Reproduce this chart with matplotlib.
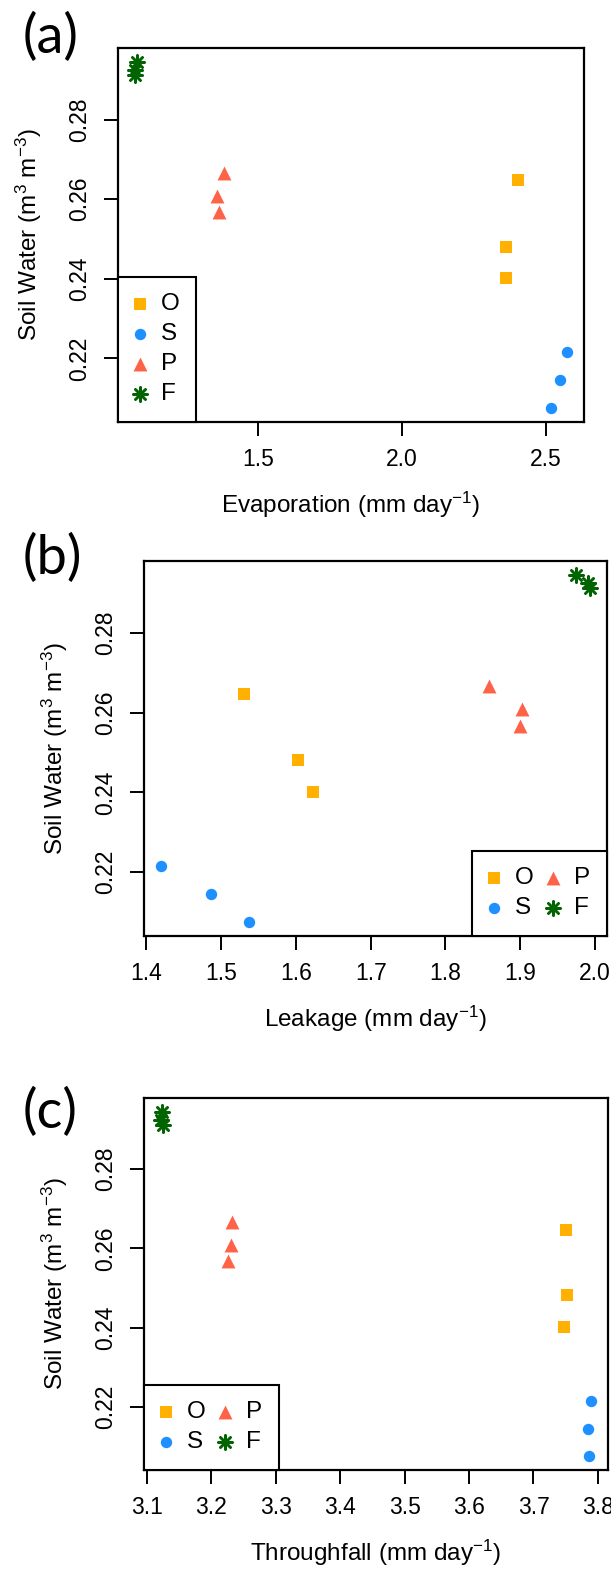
import matplotlib
matplotlib.use("Agg")
import matplotlib.pyplot as plt

plt.rcParams['font.family'] = ['Liberation Sans', 'DejaVu Sans']
plt.rcParams['mathtext.fontset'] = 'custom'
plt.rcParams['mathtext.rm'] = 'Liberation Sans'
plt.rcParams['mathtext.it'] = 'Liberation Sans:italic'
plt.rcParams['mathtext.default'] = 'regular'

# soil water (m3 m-3), same for every panel
soil_O = [0.2647, 0.2481, 0.2402]
soil_S = [0.2215, 0.2145, 0.2075]
soil_P = [0.2667, 0.2609, 0.2567]
soil_F = [0.2945, 0.2925, 0.2911]

# (a) evaporation
evap_O = [2.404, 2.363, 2.363]
evap_S = [2.573, 2.551, 2.518]
evap_P = [1.380, 1.356, 1.364]
evap_F = [1.078, 1.071, 1.071]

# (b) leakage
leak_O = [1.531, 1.603, 1.623]
leak_S = [1.420, 1.487, 1.538]
leak_P = [1.858, 1.902, 1.900]
leak_F = [1.975, 1.990, 1.993]

# (c) throughfall
thru_O = [3.751, 3.752, 3.748]
thru_S = [3.789, 3.784, 3.786]
thru_P = [3.232, 3.231, 3.226]
thru_F = [3.124, 3.122, 3.125]

groups = ['O', 'S', 'P', 'F']
colors = {'O': '#FFB000', 'S': '#1E90FF', 'P': '#FF6347', 'F': '#006400'}
markers = {'O': 's', 'S': 'o', 'P': '^', 'F': (8, 2, 0)}
msize = {'O': 8.2, 'S': 8.2, 'P': 10.0, 'F': 10.2}

yticks = [0.22, 0.24, 0.26, 0.28]
xticks_a = [1.5, 2.0, 2.5]
xticks_b = [1.4, 1.5, 1.6, 1.7, 1.8, 1.9, 2.0]
xticks_c = [3.1, 3.2, 3.3, 3.4, 3.5, 3.6, 3.7, 3.8]

W, H = 611, 1570
fig = plt.figure(figsize=(W / 100, H / 100), dpi=100)


def box(l, r, t, b):
    return [l / W, 1 - b / H, (r - l) / W, (b - t) / H]


def rlim(vals):
    lo, hi = min(vals), max(vals)
    d = 0.04 * (hi - lo)
    return lo - d, hi + d


def panel(rect, xs, xticks, xlabel, tag, tag_y, leg_loc, ncol):
    ax = fig.add_axes(box(*rect))
    ys = [soil_O, soil_S, soil_P, soil_F]
    handles = []
    for g, x, y in zip(groups, xs, ys):
        lw = 1.8 if g == 'F' else 0
        h = ax.scatter(x, y, marker=markers[g], s=msize[g] ** 2, c=colors[g],
                       linewidths=lw, label=g, zorder=3)
        handles.append(h)
    allx = [v for x in xs for v in x]
    ally = [v for y in ys for v in y]
    ax.set_xlim(*rlim(allx))
    ax.set_ylim(*rlim(ally))
    ax.set_xticks(xticks)
    ax.set_xticklabels([f'{v:.1f}' for v in xticks])
    ax.set_yticks(yticks)
    ax.set_yticklabels([f'{v:.2f}' for v in yticks])
    ax.tick_params(direction='out', length=10, width=1.4, pad=9, labelsize=16.5)
    ax.tick_params(axis='y', labelrotation=90)
    for lab in ax.get_yticklabels():
        lab.set_va('center')
    for sp in ax.spines.values():
        sp.set_linewidth(1.6)
    hpx = rect[3] - rect[2]
    wpx = rect[1] - rect[0]
    ax.set_xlabel(xlabel + r' (mm day$^{-1}$)', fontsize=17.5)
    ax.xaxis.set_label_coords(0.5, -83 / hpx)
    ax.xaxis.label.set_va('center')
    ax.set_ylabel(r'Soil Water (m$^{3}$ m$^{-3}$)', fontsize=17.5)
    ax.yaxis.set_label_coords(-89 / wpx, 0.5)
    ax.yaxis.label.set_va('center')
    anchor = (0, 0) if leg_loc == 'lower left' else (1, 0)
    leg = ax.legend(handles=handles, loc=leg_loc, bbox_to_anchor=anchor, ncol=ncol,
                    borderaxespad=0, fontsize=17.5, fancybox=False, edgecolor='black',
                    framealpha=1, borderpad=0.68, handlelength=0.45,
                    handletextpad=0.64, labelspacing=0.33, columnspacing=0.58,
                    scatterpoints=1)
    leg.get_frame().set_linewidth(1.5)
    fig.text(23 / W, 1 - tag_y / H, tag, fontsize=39, family='Lato', va='center', ha='left')
    return ax


panel((118, 584, 48, 422), [evap_O, evap_S, evap_P, evap_F], xticks_a,
      'Evaporation', '(a)', 37, 'lower left', 1)
panel((144, 607, 561, 936), [leak_O, leak_S, leak_P, leak_F], xticks_b,
      'Leakage', '(b)', 558, 'lower right', 2)
panel((144, 608, 1098, 1470), [thru_O, thru_S, thru_P, thru_F], xticks_c,
      'Throughfall', '(c)', 1112, 'lower left', 2)

fig.savefig('out.png', dpi=100)
